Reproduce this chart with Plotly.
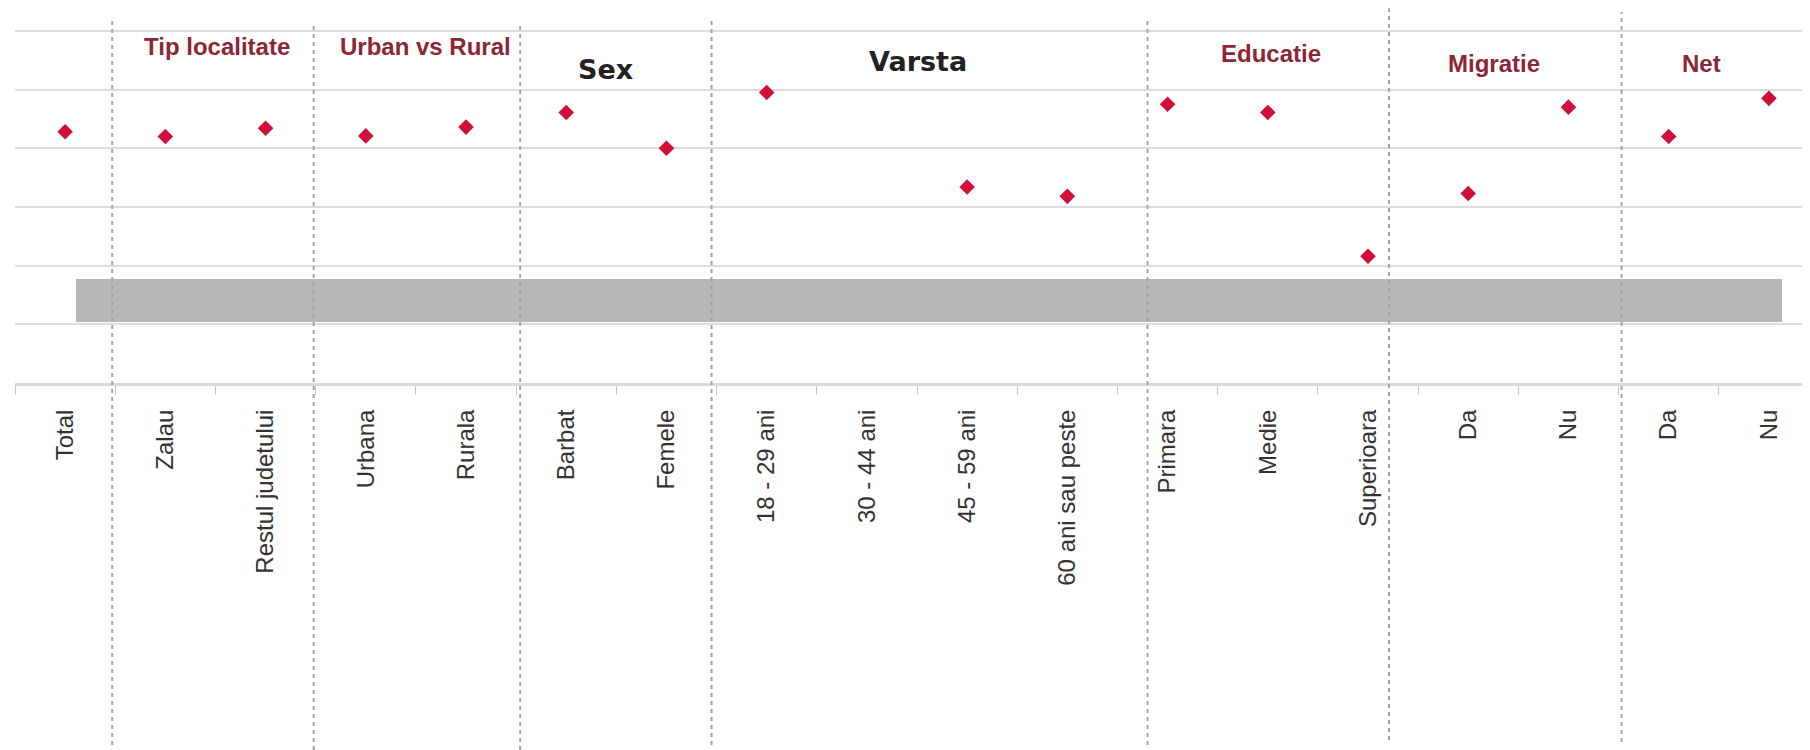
import plotly.graph_objects as go

# ---------------- data ----------------
categories = ["Total", "Zalau", "Restul judetului", "Urbana", "Rurala", "Barbat", "Femele",
              "18 - 29 ani", "30 - 44 ani", "45 - 59 ani", "60 ani sau peste",
              "Primara", "Medie", "Superioara", "Da", "Nu", "Da", "Nu"]
values = [42.8, 42.0, 43.4, 42.1, 43.6, 46.1, 40.0,
          49.5, 66.0, 33.4, 31.8,
          47.5, 46.1, 21.6, 32.3, 47.0, 42.0, 48.5]

group_names = ["Tip localitate", "Urban vs Rural", "Sex", "Varsta", "Educatie", "Migratie", "Net"]

# grey band (horizontal bar) : start / end on category scale, low / high on value scale
band_start = 0.11
band_end = 17.13
band_low = 10.4
band_high = 17.7

# ---------------- layout helpers (positions / styles) ----------------
group_x = [1.52, 3.60, 5.39, 8.51, 12.03, 14.26, 16.33]
group_y = [57.3, 57.3, 53.5, 54.7, 56.1, 54.4, 54.5]
group_style = ["red", "red", "black", "black", "red", "red", "red"]

sep_x = [0.47, 2.48, 4.54, 6.45, 10.80, 13.21, 15.53]
sep_top = [1.020, 1.000, 1.000, 1.020, 1.020, 1.047, 1.036]
sep_bottom = [-1.011, -1.025, -1.025, -1.011, -1.011, -0.997, -1.003]

x_pos = list(range(len(categories)))

fig = go.Figure()
fig.add_trace(go.Bar(
    orientation="h",
    y=[(band_low + band_high) / 2],
    x=[band_end - band_start],
    base=[band_start],
    width=[band_high - band_low],
    marker=dict(color="#b7b7b7", line=dict(width=0)),
    hoverinfo="skip",
))
fig.add_trace(go.Scatter(
    x=x_pos, y=values, mode="markers",
    marker=dict(symbol="diamond", size=12, color="#d0103a"),
    cliponaxis=False,
))

shapes = []
for sx, st, sb in zip(sep_x, sep_top, sep_bottom):
    shapes.append(dict(type="line", xref="x", yref="paper", x0=sx, x1=sx, y0=sb, y1=st,
                       line=dict(color="#a3a3a3", width=2, dash="4px,4px"), layer="above"))

annotations = []
for name, gx, gy, st in zip(group_names, group_x, group_y, group_style):
    if st == "red":
        font = dict(family="Liberation Sans, Arial, sans-serif", size=24, color="#8b2635")
    else:
        font = dict(family="DejaVu Sans, Verdana, sans-serif", size=27, color="#222222")
    annotations.append(dict(x=gx, y=gy, xref="x", yref="y", text="<b>" + name + "</b>",
                            showarrow=False, xanchor="center", yanchor="middle", font=font))

fig.update_layout(
    width=1802, height=742,
    margin=dict(l=7, r=0, t=17, b=367),
    paper_bgcolor="white", plot_bgcolor="white",
    showlegend=False,
    bargap=0,
    shapes=shapes,
    annotations=annotations,
    xaxis=dict(
        range=[-0.5, 17.41],
        tickmode="array", tickvals=x_pos, ticktext=categories,
        tickangle=-90, ticks="",
        tickfont=dict(family="Liberation Sans, Arial, sans-serif", size=24, color="#333333"),
        ticklabelstandoff=14,
        showline=True, linecolor="#d9d9d9", linewidth=3,
        showgrid=False, zeroline=False,
        minor=dict(tickmode="linear", tick0=-0.5, dtick=1, ticks="outside",
                   ticklen=9, tickwidth=1, tickcolor="#c4c4c4", showgrid=False),
        fixedrange=True,
    ),
    yaxis=dict(
        range=[0, 61],
        tickmode="array", tickvals=[0, 10, 20, 30, 40, 50, 60],
        showticklabels=False, ticks="",
        showgrid=True, gridcolor="#dcdcdc", gridwidth=2,
        zeroline=False, showline=False,
        fixedrange=True,
    ),
)

fig.write_html("out.html")
